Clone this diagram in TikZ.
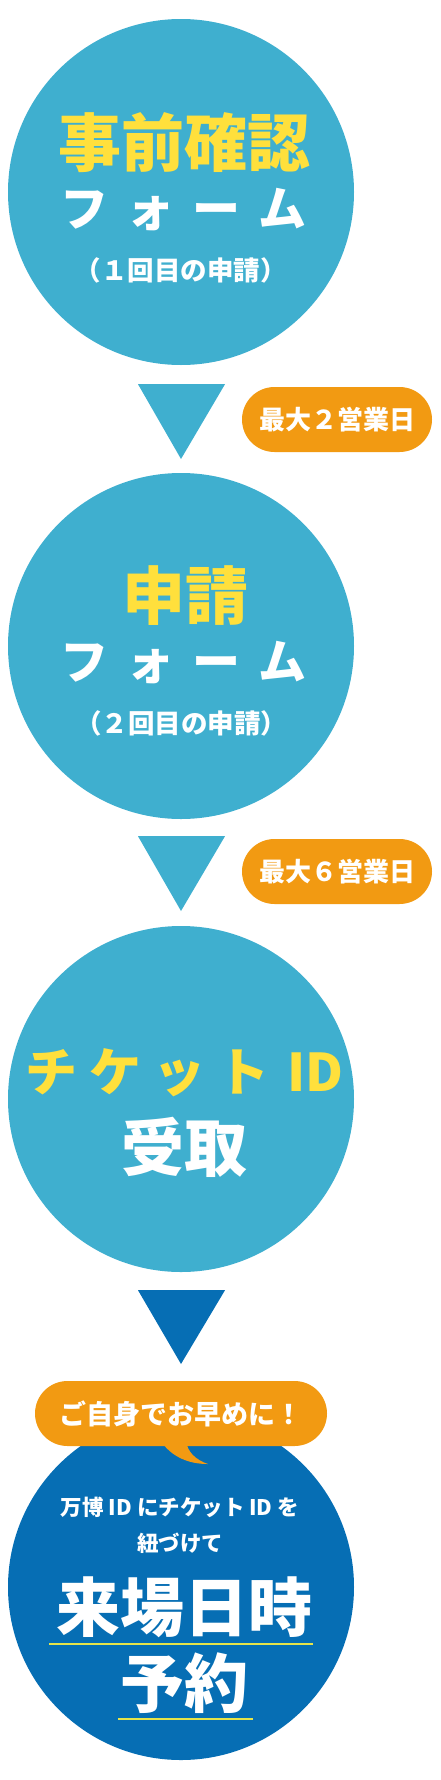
\documentclass[tikz,border=0pt]{standalone}
\usepackage{fontspec}
\newfontfamily\cjk{Noto Sans CJK JP}
\usetikzlibrary{calc}
\definecolor{lblue}{HTML}{3FAFCF}
\definecolor{dblue}{HTML}{066EB4}
\definecolor{orng}{HTML}{F29A12}
\definecolor{yel}{HTML}{FFE03C}
\definecolor{uline}{HTML}{E6E44A}
\tikzset{
  stepcircle/.style={circle, fill=#1, minimum size=346pt, inner sep=0pt},
  badge/.style={fill=orng, rounded corners=32.5pt, minimum height=65pt, inner sep=0pt, text=white,
    font=\cjk\bfseries\fontsize{26}{30}\selectfont},
  bigtxt/.style={inner sep=0pt, font=\cjk\bfseries\fontsize{63}{70}\selectfont},
  katatxt/.style={inner sep=0pt, font=\cjk\bfseries\fontsize{48}{56}\selectfont},
  subtxt/.style={inner sep=0pt, text=white, font=\cjk\bfseries\fontsize{26.5}{30}\selectfont},
  smalltxt/.style={inner sep=0pt, text=white, font=\cjk\bfseries\fontsize{21.5}{26}\selectfont},
  ulinestyle/.style={draw=uline, line width=2.5pt},
}
\begin{document}
\begin{tikzpicture}[x=1pt,y=-1pt]
\useasboundingbox (0,0) rectangle (440,1780);
% circles
\node[stepcircle=lblue] (c1) at (181,192) {};
\node[stepcircle=lblue] (c2) at (181,646) {};
\node[stepcircle=lblue] (c3) at (181,1099) {};
\node[stepcircle=dblue] (c4) at (181,1587) {};
% triangle connectors
\coordinate (a1) at (181,459);
\coordinate (a2) at (181,911);
\coordinate (a3) at (181,1364);
\fill[lblue] ($(c1.south)+(-43,19)$) -- ($(c1.south)+(44,19)$) -- (a1) -- cycle;
\fill[lblue] ($(c2.south)+(-43,17)$) -- ($(c2.south)+(44,17)$) -- (a2) -- cycle;
\fill[dblue] ($(c3.south)+(-43,18)$) -- ($(c3.south)+(44,18)$) -- (a3) -- cycle;
% badges
\node[badge, minimum width=190pt] (b1) at (337,419.5) {最大２営業日};
\node[badge, minimum width=190pt] (b2) at (337,871.5) {最大６営業日};
\fill[orng] (160,1440) .. controls (172,1458) and (190,1464) .. (208,1464)
  .. controls (196,1460) and (187,1452) .. (186,1440) -- cycle;
\node[badge, minimum width=292pt, font=\cjk\bfseries\fontsize{27}{30}\selectfont] (b4) at (181,1413.5) {ご自身でお早めに！};
% circle 1 text
\node[bigtxt, text=yel] (t1a) at (184,143) {事前確認};
\node[katatxt, text=white] (t1b) at (183,210) {フ\hspace{18pt}ォ\hspace{18pt}ー\hspace{18pt}ム};
\node[subtxt] (t1c) at (180.5,270) {（１回目の申請）};
% circle 2 text
\node[bigtxt, text=yel] (t2a) at (185,596) {申請};
\node[katatxt, text=white] (t2b) at (183,663) {フ\hspace{18pt}ォ\hspace{18pt}ー\hspace{18pt}ム};
\node[subtxt] (t2c) at (181,723) {（２回目の申請）};
% circle 3 text
\node[inner sep=0pt, text=yel, font=\cjk\bfseries\fontsize{52}{58}\selectfont] (t3a) at (184.5,1073) {チ\hspace{12pt}ケ\hspace{12pt}ッ\hspace{12pt}ト\hspace{18pt}ID};
\node[bigtxt, text=white] (t3b) at (184,1147) {受取};
% circle 4 text
\node[smalltxt] (t4a) at (180,1507) {万博 ID にチケット ID を};
\node[smalltxt] (t4b) at (180,1543) {紐づけて};
\node[bigtxt, text=white, font=\cjk\bfseries\fontsize{64}{70}\selectfont] (t4c) at (184,1607) {来場日時};
\node[bigtxt, text=white, font=\cjk\bfseries\fontsize{64}{70}\selectfont] (t4d) at (184,1683) {予約};
\coordinate (u1l) at (49,1644);
\coordinate (u1r) at (313,1644);
\coordinate (u2l) at (118,1719);
\coordinate (u2r) at (253,1719);
\draw[ulinestyle] (u1l) -- (u1r);
\draw[ulinestyle] (u2l) -- (u2r);
\end{tikzpicture}
\end{document}
